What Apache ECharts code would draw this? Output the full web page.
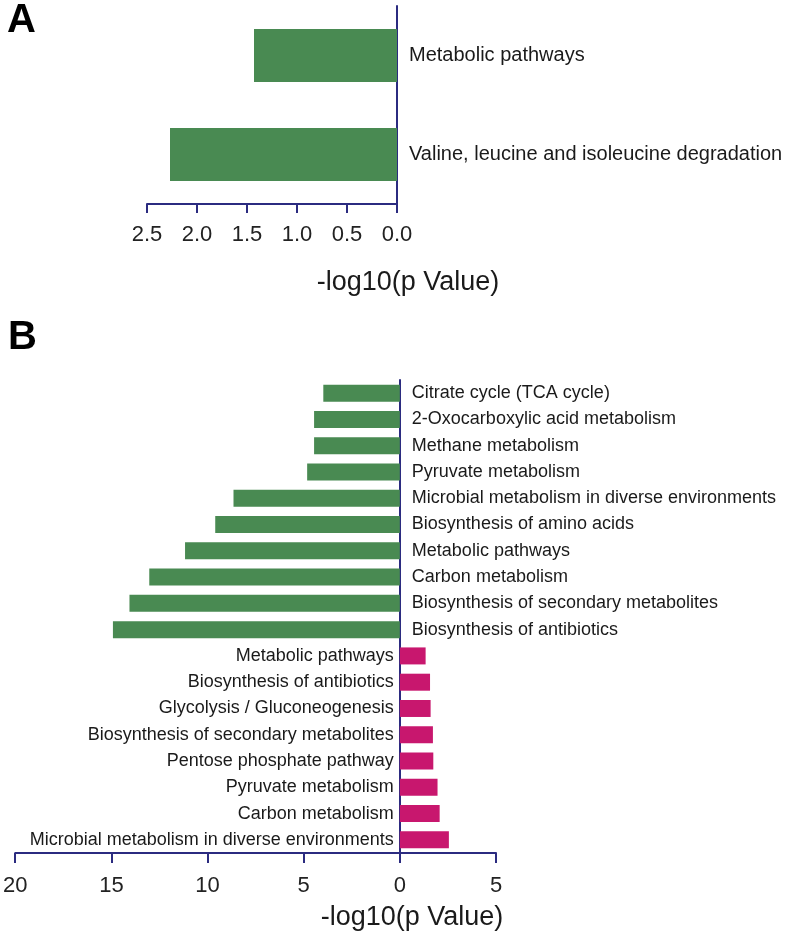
<!DOCTYPE html>
<html>
<head>
<meta charset="utf-8">
<script src="https://cdn.jsdelivr.net/npm/echarts@6/dist/echarts.min.js"></script>
<style>
html,body{margin:0;padding:0;background:#fff;}
#chart{width:788px;height:940px;}
</style>
</head>
<body>
<div id="chart"></div>
<script>
// Panel A
const catsA = ['Metabolic pathways', 'Valine, leucine and isoleucine degradation'];
const valsA = [1.43, 2.27];
const ticksA = [0, 0.5, 1.0, 1.5, 2.0, 2.5];

// Panel B
const catsB = [
  'Citrate cycle (TCA cycle)',
  '2-Oxocarboxylic acid metabolism',
  'Methane metabolism',
  'Pyruvate metabolism',
  'Microbial metabolism in diverse environments',
  'Biosynthesis of amino acids',
  'Metabolic pathways',
  'Carbon metabolism',
  'Biosynthesis of secondary metabolites',
  'Biosynthesis of antibiotics',
  'Metabolic pathways ',
  'Biosynthesis of antibiotics ',
  'Glycolysis / Gluconeogenesis',
  'Biosynthesis of secondary metabolites ',
  'Pentose phosphate pathway',
  'Pyruvate metabolism ',
  'Carbon metabolism ',
  'Microbial metabolism in diverse environments '
];
const greenVals = [3.98, 4.46, 4.46, 4.82, 8.65, 9.6, 11.17, 13.03, 14.06, 14.92];
const pinkVals = [1.34, 1.57, 1.6, 1.72, 1.74, 1.96, 2.07, 2.55];

const GREEN = '#498a52';
const PINK = '#c8176e';
const NAVY = '#2b2b80';
const TXT = '#1a1a1a';
const FONT = '"Liberation Sans", Arial, Helvetica, sans-serif';

const greenData = catsB.map((c, i) => i < greenVals.length ? -greenVals[i] : '-');
const pinkData = catsB.map((c, i) => i >= greenVals.length ? pinkVals[i - greenVals.length] : '-');

const chart = echarts.init(document.getElementById('chart'), null, {renderer: 'canvas'});
chart.setOption({
  backgroundColor: '#fff',
  animation: false,
  textStyle: {fontFamily: FONT},
  graphic: [
    {type: 'text', left: 7, top: 1, style: {text: 'A', font: 'bold 40px ' + FONT, fill: '#000'}},
    {type: 'text', left: 8, top: 318, style: {text: 'B', font: 'bold 40px ' + FONT, fill: '#000'}},
    {type: 'text', x: 408, y: 283, style: {text: '-log10(p Value)', font: '27px ' + FONT, fill: TXT, textAlign: 'center', textVerticalAlign: 'middle'}},
    {type: 'text', x: 412, y: 918, style: {text: '-log10(p Value)', font: '27px ' + FONT, fill: TXT, textAlign: 'center', textVerticalAlign: 'middle'}}
  ],
  grid: [
    {left: 147, top: 6, width: 250, height: 198, containLabel: false},
    {left: 12, top: 380, width: 484, height: 473, containLabel: false}
  ],
  xAxis: [
    {
      gridIndex: 0, type: 'value', inverse: true, min: 0, max: 2.5, interval: 0.5,
      axisLine: {show: true, lineStyle: {color: NAVY, width: 2}},
      axisTick: {show: true, length: 9, lineStyle: {color: NAVY, width: 2}},
      axisLabel: {color: '#222', fontSize: 22, margin: 20, formatter: v => v.toFixed(1)},
      splitLine: {show: false}
    },
    {
      gridIndex: 1, type: 'value', min: -20, max: 5, interval: 5,
      axisLine: {show: true, onZero: false, lineStyle: {color: NAVY, width: 2}},
      axisTick: {show: true, length: 10, lineStyle: {color: NAVY, width: 2}},
      axisLabel: {color: '#222', fontSize: 22, margin: 22, formatter: v => String(Math.abs(v))},
      splitLine: {show: false}
    }
  ],
  yAxis: [
    {
      gridIndex: 0, type: 'category', data: catsA, inverse: true, position: 'right',
      axisLine: {show: true, onZero: false, lineStyle: {color: NAVY, width: 2}},
      axisTick: {show: false},
      axisLabel: {color: TXT, fontSize: 20, margin: 12, align: 'left'}
    },
    {
      gridIndex: 1, type: 'category', data: catsB, inverse: true,
      axisLine: {show: true, onZero: true, lineStyle: {color: NAVY, width: 2}},
      axisTick: {show: false},
      axisLabel: {show: false}
    }
  ],
  series: [
    {
      type: 'bar', xAxisIndex: 0, yAxisIndex: 0, data: valsA, barWidth: 53,
      itemStyle: {color: GREEN}, z: 1
    },
    {
      type: 'bar', xAxisIndex: 1, yAxisIndex: 1, data: greenData, barWidth: 17, barGap: '-100%',
      itemStyle: {color: GREEN}, z: 1,
      label: {show: true, position: 'right', distance: 12, color: TXT, fontSize: 18,
        formatter: p => p.name.trim()}
    },
    {
      type: 'bar', xAxisIndex: 1, yAxisIndex: 1, data: pinkData, barWidth: 17, barGap: '-100%',
      itemStyle: {color: PINK}, z: 1,
      label: {show: true, position: 'left', distance: 6, color: TXT, fontSize: 18,
        formatter: p => p.name.trim()}
    }
  ]
});
</script>
</body>
</html>
